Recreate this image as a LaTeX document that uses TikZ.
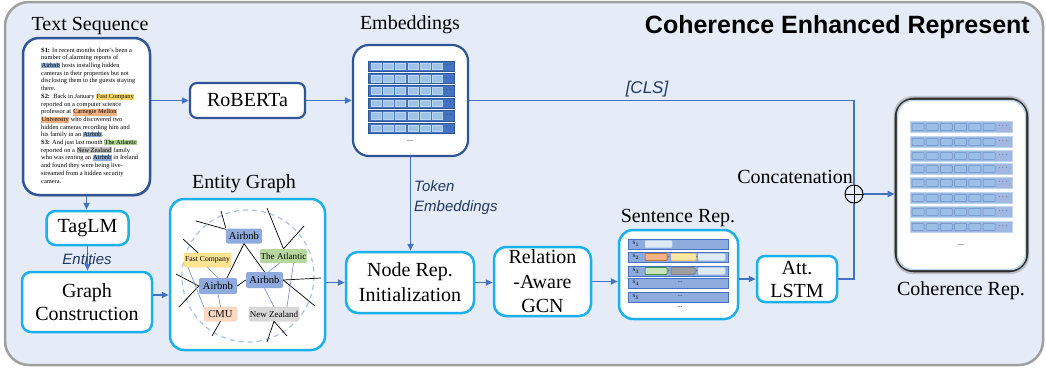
\documentclass[tikz,border=0pt]{standalone}
\usepackage{fontspec}
\setmainfont{Liberation Serif}
\newfontfamily\sansf{Liberation Sans}
\usetikzlibrary{arrows.meta,shadows,calc}
\definecolor{bgc}{HTML}{E6ECF7}
\definecolor{framec}{HTML}{A0A0A0}
\definecolor{cyanb}{HTML}{1AB0EC}
\definecolor{darkb}{HTML}{2F5597}
\definecolor{arrb}{HTML}{4472C4}
\definecolor{lblc}{HTML}{203864}
\definecolor{nodeb}{HTML}{8FAADC}
\definecolor{cellc}{HTML}{9DC3E6}
\definecolor{celld}{HTML}{BDD7EE}
\definecolor{hlblue}{HTML}{8FAADC}
\definecolor{hlyel}{HTML}{FFD966}
\definecolor{hlora}{HTML}{F4B183}
\definecolor{hlgrn}{HTML}{A9D18E}
\definecolor{hlgry}{HTML}{BFBFBF}
\definecolor{lightc}{HTML}{DEEBF7}
\definecolor{dashc}{HTML}{A9C4EB}
\newcommand{\hlt}[2]{{\setlength{\fboxsep}{0.5pt}\colorbox{#1}{#2}}}
\begin{document}
\begin{tikzpicture}[x=1pt,y=-1pt,
  cyanbox/.style={draw=cyanb, line width=2.5pt, rounded corners=9pt, fill=white, align=center, inner sep=0pt, font=\fontsize{20}{23}\selectfont},
  darkbox/.style={draw=darkb, line width=2.2pt, fill=white, align=center, inner sep=0pt, font=\fontsize{20}{23}\selectfont},
  arr/.style={draw=arrb, line width=1.8pt, -{Triangle[length=7pt,width=6pt]}},
  conn/.style={draw=arrb, line width=1.8pt},
  lbl/.style={font=\fontsize{20}{23}\selectfont, inner sep=0pt},
  ilbl/.style={font=\sansf\itshape\fontsize{15}{20}\selectfont, text=lblc, inner sep=0pt},
  ent/.style={rounded corners=2pt, inner sep=0pt, font=\fontsize{10.6}{11}\selectfont},
  blk/.style={draw=black, line width=0.7pt},
  bln/.style={draw=arrb!80, line width=0.6pt}
]
\useasboundingbox (0,0) rectangle (1046,372);
\draw[framec, line width=2.5pt, fill=bgc, rounded corners=24pt] (5,2) rectangle (1043,365);

% title
\node[anchor=base east, font=\sansf\bfseries\fontsize{25}{28}\selectfont, inner sep=0pt] (title) at (1030,33) {Coherence Enhanced Represent};

% labels
\node[lbl, anchor=base] (lts) at (90,30) {Text Sequence};
\node[lbl, anchor=base] (lemb) at (410,29) {Embeddings};
\node[lbl, anchor=base] (leg) at (244,188) {Entity Graph};
\node[lbl, anchor=base] (lsr) at (678,222) {Sentence Rep.};
\node[lbl, anchor=base east] (lcat) at (853,183) {Concatenation};
\node[lbl, anchor=base] (lcoh) at (961,295) {Coherence Rep.};

% text sequence box
\node[draw=darkb, line width=2.5pt, fill=white, rounded corners=16pt, minimum width=127pt, minimum height=157pt, drop shadow={opacity=0.45, shadow xshift=1pt, shadow yshift=-1.5pt}] (txt) at (86.5,116.5) {};
\node[anchor=north west, align=left, inner sep=0pt, font=\fontsize{6.4}{7.7}\selectfont] (seq) at (41,47.5) {%
\textbf{S1:} In recent months there’s been a\\
number of alarming reports of\\
\hlt{hlblue}{Airbnb} hosts installing hidden\\
cameras in their properties but not\\
disclosing them to the guests staying\\
there.\\
\textbf{S2:}\, Back in January \hlt{hlyel}{Fast Company}\\
reported on a computer science\\
professor at \hlt{hlora}{Carnegie Mellon}\\
\hlt{hlora}{University} who discovered two\\
hidden cameras recording him and\\
his family in an \hlt{hlblue}{Airbnb}.\\
\textbf{S3:} And just last month \hlt{hlgrn}{The Atlantic}\\
reported on a \hlt{hlgry}{New Zealand} family\\
who was renting an \hlt{hlblue}{Airbnb} in Ireland\\
and found they were being live-\\
streamed from a hidden security\\
camera.};

% main boxes
\node[darkbox, rounded corners=7pt, minimum width=115pt, minimum height=35pt] (rob) at (247.5,100.5) {RoBERTa};
\node[darkbox, rounded corners=16pt, minimum width=115pt, minimum height=111pt] (emb) at (410.5,100.5) {};
\node[cyanbox, minimum width=82pt, minimum height=34pt] (tag) at (87.5,228) {TagLM};
\node[cyanbox, minimum width=130pt, minimum height=60pt] (gc) at (87,302) {Graph\\Construction};
\node[cyanbox, rounded corners=14pt, minimum width=155pt, minimum height=151pt] (eg) at (247.5,274.5) {};
\node[cyanbox, rounded corners=12pt, minimum width=128pt, minimum height=61pt, font=\fontsize{20}{25}\selectfont] (nri) at (410,282.5) {Node Rep.\\Initialization};
\node[cyanbox, rounded corners=12pt, minimum width=97pt, minimum height=69pt, font=\fontsize{20}{24.5}\selectfont] (gcn) at (542.5,281.5) {Relation\\-Aware\\GCN};
\node[cyanbox, rounded corners=14pt, minimum width=119pt, minimum height=89pt] (sr) at (678.5,274.5) {};
\node[cyanbox, rounded corners=8pt, minimum width=80pt, minimum height=46pt] (lstm) at (797,279) {Att.\\LSTM};
\node[draw=black!82, line width=2.6pt, fill=white, rounded corners=18pt, minimum width=131pt, minimum height=172pt, drop shadow={opacity=0.4, shadow scale=1.035, shadow xshift=0pt, shadow yshift=0pt}] (coh) at (961.5,185) {};
\draw[celld, line width=1.4pt, rounded corners=15pt] ($(coh.south west)+(2.8,-2.8)$) rectangle ($(coh.north east)+(-2.8,2.8)$);
\node[circle, draw=black, line width=1pt, minimum size=18pt, inner sep=0pt] (oplus) at (854,194) {};
\draw[black, line width=1pt] (oplus.north) -- (oplus.south) (oplus.west) -- (oplus.east);

% embeddings rows
\foreach \i in {0,...,5}{
  \pgfmathsetmacro\yy{66+12.4*\i}
  \draw[darkb, fill=arrb, line width=0.6pt] (368,\yy-5.2) rectangle (454,\yy+5.2);
  \foreach \j in {0,...,5}{
    \pgfmathsetmacro\xx{371+12.3*\j}
    \draw[celld, fill=cellc, line width=0.4pt] (\xx,\yy-3.3) rectangle (\xx+10,\yy+3.3);
  }
  \node[inner sep=0pt, font=\fontsize{7}{7}\selectfont] at (447,\yy-1) {$\cdots$};
}
\node[inner sep=0pt, font=\fontsize{8}{8}\selectfont] (embdots) at (410,141) {...};

% coherence rows
\foreach \yy in {127,142,156,169,183,198,212,227}{
  \draw[celld, fill=nodeb!85, line width=0.6pt] (910,\yy-5.5) rectangle (1012,\yy+5.5);
  \foreach \j in {0,...,5}{
    \pgfmathsetmacro\xx{912+14.2*\j}
    \draw[arrb!80, fill=cellc!85!nodeb, line width=0.5pt, rounded corners=1pt] (\xx,\yy-3.6) rectangle (\xx+12,\yy+3.6);
  }
  \node[inner sep=0pt, font=\fontsize{6}{6}\selectfont] at (1003,\yy-1) {$\cdots$};
}
\node[inner sep=0pt, font=\fontsize{8}{8}\selectfont] (cohdots) at (961,245) {...};

% sentence rows
\foreach \yy/\s in {244/1,257/2,271/3,283/4,297/5}{
  \draw[arrb, fill=nodeb, line width=0.6pt] (628,\yy-5) rectangle (728,\yy+5);
  \node[inner sep=0pt, font=\fontsize{5}{5}\selectfont] at (636,\yy) {S$_{\s}$};
}
\draw[celld, fill=lightc, line width=0.5pt, rounded corners=1pt] (645,240.5) rectangle (672,247.5);
\draw[draw=orange!70!black, fill=hlora, line width=0.5pt, rounded corners=1pt] (645,253.5) rectangle (667,260.5);
\draw[draw=hlyel!70!orange, fill=hlyel!60!white, line width=0.5pt, rounded corners=1pt] (671,253.5) rectangle (696,260.5);
\draw[celld, fill=lightc, line width=0.5pt, rounded corners=1pt] (698,253.5) rectangle (725,260.5);
\draw[draw=green!50!black, fill=hlgrn!60!white, line width=0.5pt, rounded corners=1pt] (645,267.5) rectangle (667,274.5);
\draw[draw=black!55, fill=black!38, line width=0.5pt, rounded corners=1pt] (671,267.5) rectangle (695,274.5);
\draw[celld, fill=lightc, line width=0.5pt, rounded corners=1pt] (698,267.5) rectangle (725,274.5);
\foreach \xx in {669,697}{\node[inner sep=0pt, font=\fontsize{4}{4}\selectfont] at (\xx,257) {+}; \node[inner sep=0pt, font=\fontsize{4}{4}\selectfont] at (\xx,271) {+};}
\node[inner sep=0pt, font=\fontsize{6}{6}\selectfont] at (680,282) {...};
\node[inner sep=0pt, font=\fontsize{6}{6}\selectfont] at (680,296) {...};
\node[inner sep=0pt, font=\fontsize{7}{7}\selectfont] (srdots) at (680,307) {...};

% entity graph
\draw[dashc, line width=1.2pt, dash pattern=on 5pt off 4pt] (248,276) circle (66);
\node[ent, fill=nodeb, minimum width=36pt, minimum height=15pt] (e1) at (244,236) {Airbnb};
\node[ent, fill=hlyel!70!white, draw=hlyel, line width=0.5pt, minimum width=47pt, minimum height=14pt, font=\fontsize{7.7}{8}\selectfont] (e2) at (207.5,260) {Fast Company};
\node[ent, fill=hlgrn!85!white, minimum width=47pt, minimum height=14pt, font=\fontsize{9.1}{10}\selectfont] (e3) at (283.5,256) {The Atlantic};
\node[ent, fill=nodeb, minimum width=38pt, minimum height=16pt] (e4) at (218,286) {Airbnb};
\node[ent, fill=nodeb, minimum width=37pt, minimum height=16pt] (e5) at (264.5,280) {Airbnb};
\node[ent, fill=hlora!50!white, draw=hlora!60!white, line width=0.5pt, minimum width=33pt, minimum height=14pt] (e6) at (220.5,314) {CMU};
\node[ent, fill=black!15, draw=black!20, line width=0.5pt, minimum width=50pt, minimum height=14pt, font=\fontsize{9}{10}\selectfont] (e7) at (274,314) {New Zealand};
\coordinate (f1) at (196,221);
\coordinate (f2) at (221,211);
\coordinate (f3) at (183,239);
\coordinate (f4) at (176,274);
\coordinate (f5) at (179,307);
\coordinate (f6) at (267,208);
\coordinate (f7) at (304,226);
\coordinate (f8) at (321,278);
\coordinate (f9) at (315,306);
\coordinate (f10) at (212,336);
\coordinate (f11) at (267,342);
\coordinate (f12) at (287,336);
\draw[blk] (f1) -- ([yshift=-1pt]e1.north west);
\draw[blk] (f2) -- (e1.north west);
\draw[blk] (e1.south) -- ([xshift=9pt]e4.north);
\draw[blk] (e1.south) -- (e5.north);
\draw[blk] (f3) -- ([xshift=-9.5pt]e2.north);
\draw[blk] (f4) -- (e4.west);
\draw[blk] (f5) -- (e4.west);
\draw[blk] (e4.east) -- (e5.west);
\draw[blk] (f6) -- (e3.north);
\draw[blk] (f7) -- (e3.north);
\draw[blk] (e5.east) -- (f8);
\draw[blk] (e5.east) -- (f9);
\draw[blk] (e6.south) -- (f10);
\draw[blk] (e7.south) -- (f11);
\draw[blk] (e7.south) -- (f12);
\draw[bln] ([xshift=-19.5pt]e2.south) -- (e6.north west);
\draw[bln] (e2.south) -- (e4.north);
\draw[bln] (e4.south) -- (e6.north);
\draw[bln] ([xshift=4pt]e5.north) -- ([xshift=-4pt]e3.south);
\draw[bln] ([xshift=10pt]e3.south) -- ([xshift=13pt]e7.north);
\draw[bln] (e5.south) -- (e7.north);

% connectors
\draw[arr] (txt.east |- rob.west) -- (rob.west);
\draw[arr] (rob.east) -- (rob.east -| emb.west);
\draw[conn] (emb.east) -- (oplus |- emb.east) -- (oplus.north);
\node[ilbl, anchor=base, font=\sansf\itshape\fontsize{17}{20}\selectfont] (cls) at (647,93) {[CLS]};
\draw[conn] (lstm.east) -| (oplus.south);
\draw[arr] (oplus.east) -- (oplus -| coh.west);
\draw[arr] (emb.south) -- (emb.south |- nri.north);
\node[ilbl, anchor=north west, align=left, font=\sansf\itshape\fontsize{15}{20}\selectfont] (tok) at (414,180) {Token\\Embeddings};
\draw[arr] (txt.south) -- (txt.south |- tag.north);
\draw[arr] (tag.south) -- (tag.south |- gc.north);
\node[ilbl, anchor=base] (ents) at (87,264) {Entities};
\coordinate (g1) at ([yshift=7pt]gc.east);
\draw[arr] (g1) -- (g1 -| eg.west);
\draw[arr] (eg.east |- nri.west) -- (nri.west);
\draw[arr] (nri.east) -- (nri.east -| gcn.west);
\draw[arr] (gcn.east) -- (gcn.east -| sr.west);
\draw[arr] (sr.east |- lstm.west) -- (lstm.west);
\end{tikzpicture}
\end{document}
